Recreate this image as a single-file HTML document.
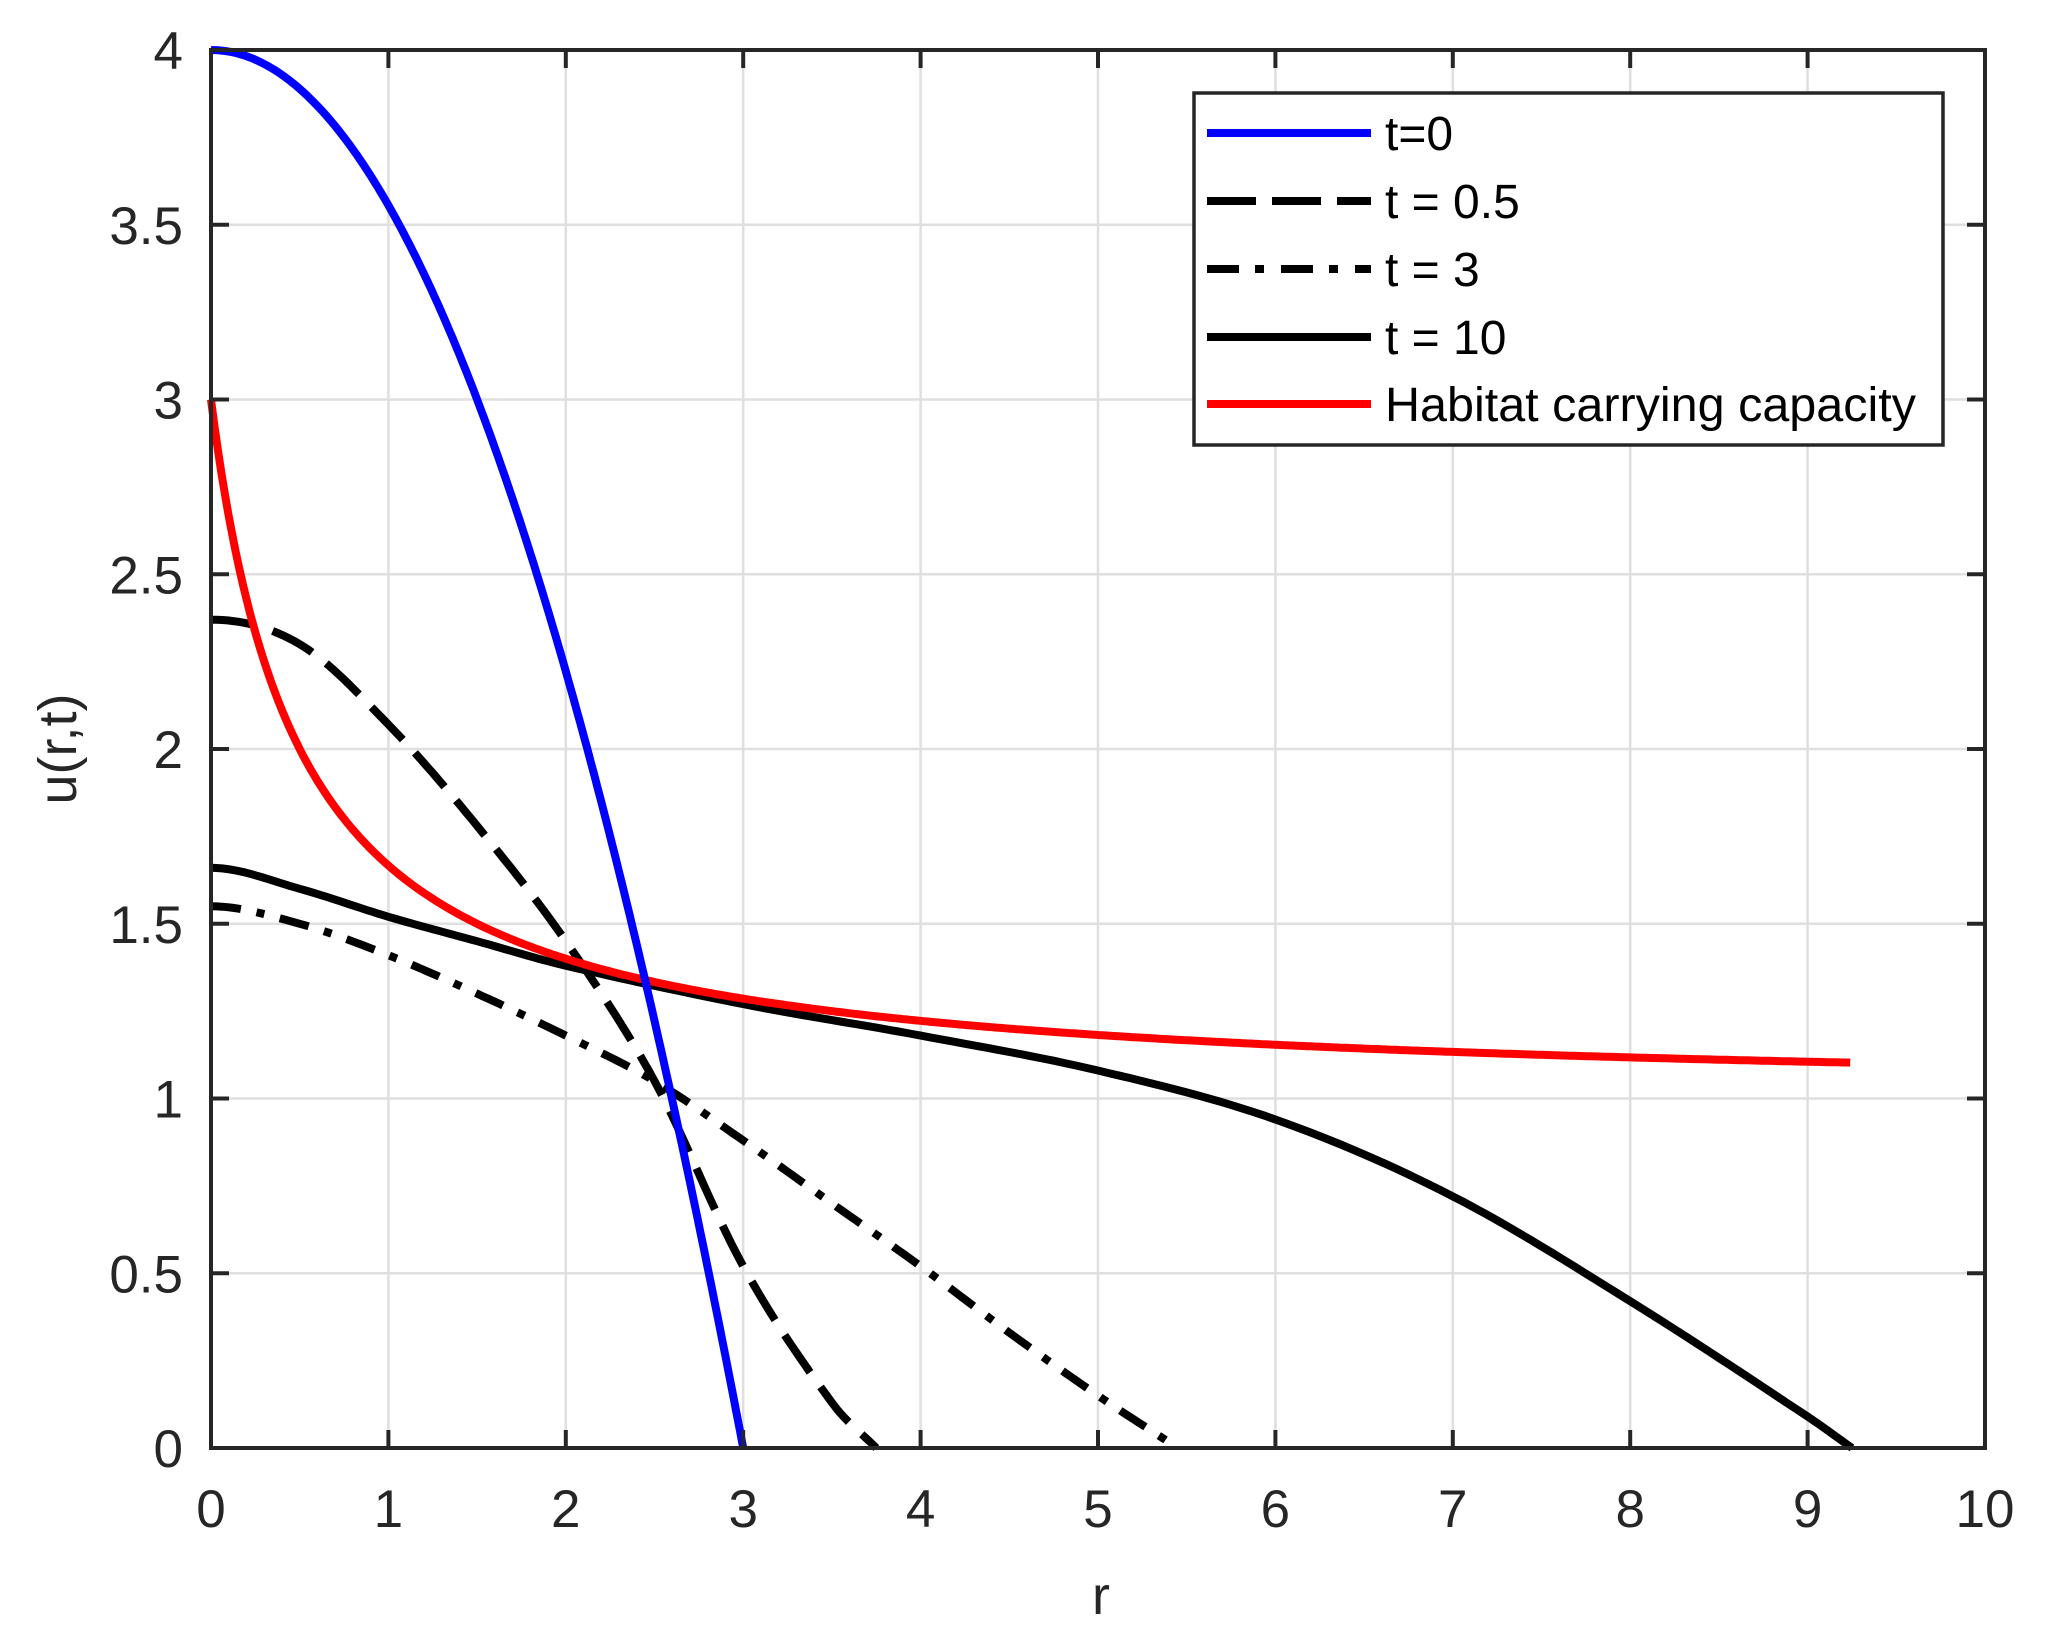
<!DOCTYPE html>
<html><head><meta charset="utf-8"><style>
html,body{margin:0;padding:0;background:#fff}
svg{display:block}
text{font-family:"Liberation Sans",Arial,sans-serif;fill:#262626}
</style></head><body>
<svg id="s" width="2050" height="1627" viewBox="0 0 2050 1627" xmlns="http://www.w3.org/2000/svg">
<rect width="2050" height="1627" fill="#fff"/>
<g id="grid" stroke="#dfdfdf" stroke-width="2.5"></g>
<g id="curves" fill="none" stroke-width="8" stroke-linejoin="round"></g>
<g id="axes" stroke="#262626" stroke-width="4" fill="none"></g>
<g id="labels" font-size="53"></g>
<text x="1101" y="1614" font-size="54" text-anchor="middle">r</text>
<text transform="translate(76,749) rotate(-90)" font-size="54" text-anchor="middle">u(r,t)</text>
<g id="legend">
<rect x="1194" y="93" width="749" height="352" fill="#fff" stroke="#262626" stroke-width="3.5"/>
<line x1="1207" y1="133" x2="1371" y2="133" stroke="#0000ff" stroke-width="8"/>
<line x1="1207" y1="201" x2="1371" y2="201" stroke="#000" stroke-width="8" stroke-dasharray="49,16"/>
<line x1="1207" y1="269" x2="1371" y2="269" stroke="#000" stroke-width="8" stroke-dasharray="32,16,9,17"/>
<line x1="1207" y1="337" x2="1371" y2="337" stroke="#000" stroke-width="8"/>
<line x1="1207" y1="404" x2="1371" y2="404" stroke="#ff0000" stroke-width="8"/>
<g font-size="48">
<text x="1385" y="150" style="fill:#000">t=0</text>
<text x="1385" y="218" style="fill:#000">t = 0.5</text>
<text x="1385" y="286" style="fill:#000">t = 3</text>
<text x="1385" y="354" style="fill:#000">t = 10</text>
<text x="1385" y="421" textLength="531" lengthAdjust="spacingAndGlyphs" style="fill:#000">Habitat carrying capacity</text>
</g>
</g>
</svg>
<script>
var L=211,R=1985,T=50,B=1448,NS="http://www.w3.org/2000/svg";
function X(r){return L+(R-L)*r/10}
function Y(u){return B-(B-T)*u/4}
function el(p,tag,a){var e=document.createElementNS(NS,tag);for(var k in a)e.setAttribute(k,a[k]);p.appendChild(e);return e}
var g=document.getElementById('grid'),ax=document.getElementById('axes'),lb=document.getElementById('labels');
for(var i=1;i<10;i++)el(g,'line',{x1:X(i),y1:T,x2:X(i),y2:B});
for(var j=1;j<8;j++)el(g,'line',{x1:L,y1:Y(j*0.5),x2:R,y2:Y(j*0.5)});
function herm(pts,n){var N=pts.length,m=[];
for(var i=0;i<N;i++){if(i==0)m.push(0);else if(i==N-1)m.push((pts[i][1]-pts[i-1][1])/(pts[i][0]-pts[i-1][0]));
else m.push((pts[i+1][1]-pts[i-1][1])/(pts[i+1][0]-pts[i-1][0]));}
var out=[];for(var i=0;i<N-1;i++){var x0=pts[i][0],x1=pts[i+1][0],h=x1-x0,y0=pts[i][1],y1=pts[i+1][1];
for(var k=0;k<n;k++){var t=k/n,t2=t*t,t3=t2*t;
var y=(2*t3-3*t2+1)*y0+(t3-2*t2+t)*h*m[i]+(-2*t3+3*t2)*y1+(t3-t2)*h*m[i+1];out.push([x0+h*t,y]);}}
out.push(pts[N-1]);return out}
function path(pts,attrs){var d=pts.map(function(p,i){return (i?'L':'M')+X(p[0]).toFixed(1)+','+Y(p[1]).toFixed(1)}).join('');attrs.d=d;el(document.getElementById('curves'),'path',attrs)}
var blue=[],red=[];
for(var r=0;r<=3.0001;r+=0.02)blue.push([r,4*(1-r*r/9)]);
for(var r=0;r<=9.2501;r+=0.02)red.push([r,1+2/(1+2*r)]);
path(herm([[0,2.37],[0.5,2.3],[1,2.07],[1.5,1.78],[2,1.45],[2.5,1.05],[3,0.52],[3.5,0.13],[3.75,0]],16),{stroke:'#000','stroke-dasharray':'45,18'});
path(herm([[0,1.55],[0.5,1.5],[1,1.41],[1.5,1.3],[2,1.18],[2.5,1.05],[3,0.88],[3.5,0.7],[4,0.52],[4.5,0.33],[5,0.15],[5.45,0]],16),{stroke:'#000','stroke-dasharray':'30,16,8,16'});
path(herm([[0,1.66],[0.5,1.6],[1,1.52],[1.5,1.45],[2,1.38],[3,1.27],[4,1.18],[5,1.08],[6,0.94],[7,0.72],[8,0.42],[9,0.09],[9.25,0]],16),{stroke:'#000'});
path(red,{stroke:'#ff0000'});
path(blue,{stroke:'#0000ff'});
el(ax,'rect',{x:L,y:T,width:R-L,height:B-T});
for(var i=1;i<10;i++){el(ax,'line',{x1:X(i),y1:B,x2:X(i),y2:B-18});el(ax,'line',{x1:X(i),y1:T,x2:X(i),y2:T+18});}
for(var j=1;j<8;j++){el(ax,'line',{x1:L,y1:Y(j*0.5),x2:L+18,y2:Y(j*0.5)});el(ax,'line',{x1:R,y1:Y(j*0.5),x2:R-18,y2:Y(j*0.5)});}
for(var i=0;i<=10;i++){var t=el(lb,'text',{x:X(i),y:1527,'text-anchor':'middle'});t.textContent=i;}
for(var j=0;j<=8;j++){var v=j*0.5;var t=el(lb,'text',{x:183,y:Y(v)+19,'text-anchor':'end'});t.textContent=(v%1?v.toFixed(1):v);}
</script>
</body></html>
